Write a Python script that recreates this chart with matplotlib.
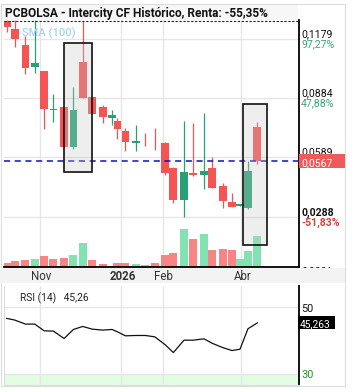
import matplotlib
matplotlib.use("Agg")
import matplotlib.pyplot as plt
import matplotlib.dates as mdates
from matplotlib.patches import Rectangle
import datetime as dt

plt.rcParams['font.family'] = ['Roboto', 'DejaVu Sans']

# ---------------- data ----------------
dates = ["2025-10-07", "2025-10-13", "2025-10-21", "2025-10-28", "2025-11-04",
         "2025-11-11", "2025-11-19", "2025-11-26", "2025-12-03", "2025-12-10",
         "2025-12-18", "2025-12-25", "2025-12-29", "2026-01-04", "2026-01-12",
         "2026-01-19", "2026-01-26", "2026-02-03", "2026-02-09", "2026-02-17",
         "2026-02-24", "2026-03-04", "2026-03-10", "2026-03-18", "2026-03-25",
         "2026-03-31", "2026-04-06", "2026-04-13"]
opens  = [0.1269, 0.1229, 0.1149, 0.1039, 0.1019, 0.0826, 0.0839, 0.0639, 0.1064, 0.0889,
          0.0839, 0.0784, 0.0769, 0.0719, 0.0661, 0.0702, 0.0672, 0.0659, 0.0534, 0.0374,
          0.0509, 0.0499, 0.0534, 0.0444, 0.0364, 0.0344, 0.0334, 0.0739]
highs  = [0.1272, 0.1274, 0.1194, 0.1274, 0.1019, 0.0904, 0.0839, 0.0939, 0.1269, 0.0889,
          0.0849, 0.0824, 0.0784, 0.0734, 0.0749, 0.0709, 0.0734, 0.0664, 0.0539, 0.0769,
          0.0759, 0.0809, 0.0589, 0.0459, 0.0409, 0.0355, 0.0569, 0.0764]
lows   = [0.1214, 0.1139, 0.1004, 0.1009, 0.0729, 0.0764, 0.0634, 0.0629, 0.0884, 0.0802,
          0.0759, 0.0749, 0.0679, 0.0619, 0.0619, 0.0644, 0.0624, 0.0499, 0.0359, 0.0289,
          0.0494, 0.0429, 0.0432, 0.0334, 0.0337, 0.0343, 0.0329, 0.0554]
closes = [0.1239, 0.1179, 0.1034, 0.1059, 0.0829, 0.0828, 0.0639, 0.0824, 0.0884, 0.0804,
          0.0789, 0.0799, 0.0729, 0.0664, 0.0668, 0.0702, 0.0672, 0.0509, 0.0374, 0.0514,
          0.0499, 0.0519, 0.0434, 0.0369, 0.0339, 0.0354, 0.0519, 0.0567]
volumes = [4, 6, 7, 8, 11, 8, 9, 12, 24, 7, 3, 0, 4, 4, 3, 2, 4, 12, 14, 38,
           28, 33, 17, 18, 17, 8, 16, 31]
rsi = [46.6, 46.1, 44.9, 44.9, 42.9, 42.8, 40.6, 43.3, 44.2, 43.4, 43.1, 43.3, 42.6, 41.4,
       41.5, 41.5, 41.1, 38.7, 36.4, 40.1, 40.1, 40.5, 39.2, 37.9, 37.0, 37.4, 43.5, 45.26]

last_price = 0.0567
max_line = 0.1269
price_levels = [0.1179, 0.0884, 0.0589, 0.0288]
price_labels = ["0,1179", "0,0884", "0,0589", "0,0288"]
pct_labels = ["97,27%", "47,88%", None, "-51,83%"]
month_ticks = ["2025-11-01", "2026-01-01", "2026-02-01", "2026-04-01"]
month_labels = ["Nov", "2026", "Feb", "Abr"]
title = "PCBOLSA - Intercity CF Histórico, Renta: -55,35%"
rsi_label = "RSI (14)   45,26"
rsi_last = "45,263"
# highlight boxes: (start date, end date, low price, high price)
box_start = ["2025-11-19", "2026-04-02"]
box_end = ["2025-12-10", "2026-04-20"]
box_low = [0.0514, 0.0149]
box_high = [0.1159, 0.0854]

# ---------------- figure helpers ----------------
W, H = 353, 390
fig = plt.figure(figsize=(W / 100, H / 100), dpi=100)


def px(x0, y0, x1, y1):
    return [x0 / W, 1 - y1 / H, (x1 - x0) / W, (y1 - y0) / H]


def fy(y):
    return 1 - y / H


def fx(x):
    return x / W


def dn(s):
    return mdates.date2num(dt.date.fromisoformat(s))


d = [dn(s) for s in dates]
nov1 = dn("2025-11-01")
xlim = (nov1 - 27.1, nov1 + 194.3)
mt = [dn(s) for s in month_ticks]

RED = '#f45454'
GREEN = '#26a074'
VRED = '#f88585'
VGREEN = '#82e2b2'
GRID = '#e6e6e6'

# outer frame & title band
fig.add_artist(Rectangle((fx(0), fy(20)), fx(298), 16 / H, transform=fig.transFigure,
                         facecolor='#f7f7f7', edgecolor='none', zorder=-5))
fig.add_artist(Rectangle((fx(0.5), fy(386)), fx(344.5), 382 / H, transform=fig.transFigure,
                         facecolor='none', edgecolor='#dcdcdc', lw=0.8, zorder=-4))

# ---------------- volume (bottom layer) ----------------
axv = fig.add_axes(px(4, 20, 299, 267))
axv.set_xlim(*xlim)
axv.set_ylim(0, 247)
for m in mt:
    axv.axvline(m, color=GRID, lw=1.0, zorder=0)
vcol = []
for i in range(len(closes)):
    up = closes[i] >= (opens[i] if i == 0 else closes[i - 1])
    vcol.append(VGREEN if up else VRED)
axv.bar(d, volumes, width=6.0, color=vcol, zorder=1, linewidth=0)
axv.axis('off')

# ---------------- price ----------------
ax = fig.add_axes(px(4, 20, 299, 267))
ax.set_zorder(axv.get_zorder() + 1)
ax.patch.set_visible(False)
ax.set_xlim(*xlim)
ax.set_ylim(0.0039, 0.1274)
for lv in price_levels:
    ax.axhline(lv, color=GRID, lw=1.0, zorder=0)

for i in range(len(d)):
    o, h, l, c = opens[i], highs[i], lows[i], closes[i]
    col = GREEN if c > o else RED
    ax.vlines(d[i], l, h, color=col, lw=0.9, zorder=2)
    if o != c:
        ax.bar(d[i], abs(c - o), bottom=min(o, c), width=5.8, color=col, linewidth=0, zorder=3)

ax.axhline(max_line, color='#222222', lw=0.8, ls=(0, (2, 1.5)), zorder=4)
ax.axhline(last_price, color='#1010c8', lw=1.1, ls=(0, (4, 3)), zorder=4)

for s0, s1, lo, hi in zip(box_start, box_end, box_low, box_high):
    x0, x1 = dn(s0), dn(s1)
    ax.add_patch(Rectangle((x0, lo), x1 - x0, hi - lo, facecolor='#c8c8c8', alpha=0.3,
                           edgecolor='none', zorder=5))
    ax.add_patch(Rectangle((x0, lo), x1 - x0, hi - lo, facecolor='none',
                           edgecolor='#111111', lw=1.2, zorder=6))

for s in ['top', 'left']:
    ax.spines[s].set_visible(False)
ax.spines['right'].set_color('#000000')
ax.spines['right'].set_linewidth(1.3)
ax.spines['bottom'].set_color('#000000')
ax.spines['bottom'].set_linewidth(1.3)
ax.set_xticks([])
ax.set_yticks([])

ax.text(0.06, 0.968, "SMA (100)", transform=ax.transAxes, color='#a6d3f7',
        fontsize=8, fontweight='medium', va='top', ha='left', zorder=7)

# title
fig.text(fx(5), fy(17), title, fontsize=8.6, fontweight='bold', color='#111111',
         ha='left', va='baseline')

# right price labels
ylo, yhi = ax.get_ylim()


def price_to_py(p):
    return 20 + (yhi - p) / (yhi - ylo) * 247


for lv, lab, pct in zip(price_levels, price_labels, pct_labels):
    yb = price_to_py(lv)
    bold = lab == "0,0288"
    fig.text(fx(301), fy(yb - 2), lab, fontsize=7.6, color='#111111',
             fontweight='bold' if bold else 'normal', ha='left', va='baseline')
    if pct:
        colp = '#d94040' if pct.startswith('-') else '#3aa57a'
        fig.text(fx(301), fy(yb + 8.5), pct, fontsize=7.6, color=colp,
                 fontweight='bold' if bold else 'normal', ha='left', va='baseline')

yl = price_to_py(last_price)
fig.add_artist(Rectangle((fx(299), fy(yl + 7)), fx(46), 14 / H, transform=fig.transFigure,
                         facecolor='#f05a5a', edgecolor='none', zorder=8))
fig.text(fx(301), fy(yl + 4.5), "0,0567", fontsize=7.6, color='white', ha='left',
         va='baseline', zorder=9)

fig.text(fx(301), fy(274.5), "0,0001", fontsize=7.6, color='#111111', ha='left',
         va='baseline', zorder=2)

# x-axis band
fig.add_artist(Rectangle((fx(0), fy(283)), fx(345), 15.3 / H, transform=fig.transFigure,
                         facecolor='#f3f3f3', edgecolor='none', zorder=5))
for m, lab in zip(mt, month_labels):
    xp = 4 + (m - xlim[0]) / (xlim[1] - xlim[0]) * 295
    fig.text(fx(xp + 1), fy(280.5), lab, fontsize=8.3, color='#333333',
             fontweight='bold' if lab == "2026" else 'normal', ha='center', va='baseline',
             zorder=6)

# ---------------- RSI ----------------
axr = fig.add_axes(px(4, 286, 299, 385))
axr.set_xlim(*xlim)
axr.set_ylim(26.72, 56.27)
axr.axhspan(26.72, 30, color='#e3fde3', zorder=0, lw=0)
for m in mt:
    axr.axvline(m, color=GRID, lw=1.0, zorder=1)
axr.axhline(50, color=GRID, lw=1.0, zorder=1)
axr.axhline(30, color=GRID, lw=1.0, zorder=1)
axr.plot(d, rsi, color='#111111', lw=0.9, zorder=3)
axr.set_xticks([])
axr.set_yticks([])
axr.spines['top'].set_visible(False)
axr.spines['left'].set_color('#dcdcdc')
axr.spines['bottom'].set_color('#dcdcdc')
axr.spines['right'].set_color('#000000')
axr.spines['right'].set_linewidth(1.3)
axr.text(0.055, 0.93, rsi_label, transform=axr.transAxes, fontsize=7.4, color='#222222',
         ha='left', va='top')

fig.text(fx(301), fy(312), "50", fontsize=7.8, color='#111111', ha='left', va='baseline')
fig.text(fx(301), fy(378), "30", fontsize=7.8, color='#1a9a1a', ha='left', va='baseline')
ry = 286 + (56.27 - rsi[-1]) / (56.27 - 26.72) * 99
fig.add_artist(Rectangle((fx(298), fy(ry + 6.5)), fx(37), 13 / H, transform=fig.transFigure,
                         facecolor='#000000', edgecolor='none', zorder=8))
fig.text(fx(300), fy(ry + 4), rsi_last, fontsize=7.4, color='white', ha='left',
         va='baseline', zorder=9)

fig.savefig("out.png", dpi=100)
